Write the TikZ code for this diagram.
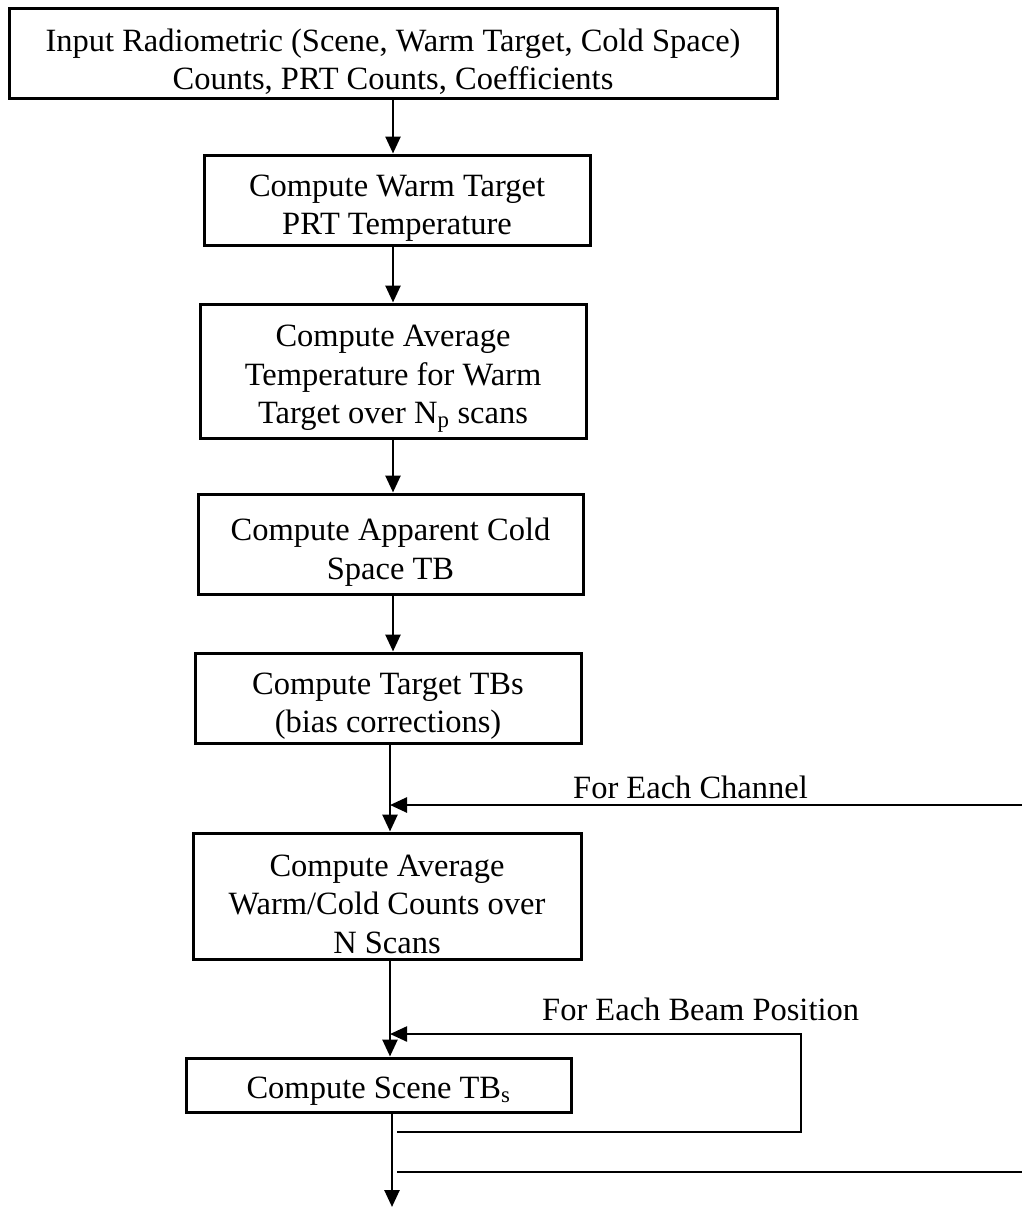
\documentclass[tikz,border=0pt]{standalone}
\usepackage{fontspec}
\setmainfont{Liberation Serif}
\usetikzlibrary{arrows.meta}
\begin{document}
\begin{tikzpicture}[x=1pt,y=-1pt,
  box/.style={draw, line width=3pt, inner sep=0pt},
  txt/.style={align=center, inner sep=0pt, yshift=-8pt,
    font=\fontsize{32.5}{38.5}\selectfont},
  arr/.style={line width=2.6pt, -{Triangle[length=17pt,width=15pt]}},
  loopline/.style={line width=2.3pt},
  lbl/.style={anchor=base west, inner sep=0pt, font=\fontsize{32.5}{38.5}\selectfont}]
\useasboundingbox (0,0) rectangle (1022,1207);

\node[box, minimum width=768pt, minimum height=89pt,
  label={[txt]center:{Input Radiometric (Scene, Warm Target, Cold Space)\\Counts, PRT Counts, Coefficients}}]
  (b1) at (393,53.5) {};
\node[box, minimum width=386pt, minimum height=90pt,
  label={[txt]center:{Compute Warm Target\\PRT Temperature}}]
  (b2) at (397,200) {};
\node[box, minimum width=386pt, minimum height=134pt,
  label={[txt]center:{Compute Average\\Temperature for Warm\\Target over N\textsubscript{p} scans}}]
  (b3) at (393,371) {};
\node[box, minimum width=385pt, minimum height=100pt,
  label={[txt]center:{Compute Apparent Cold\\Space TB}}]
  (b4) at (390.5,544) {};
\node[box, minimum width=386pt, minimum height=90pt,
  label={[txt]center:{Compute Target TBs\\(bias corrections)}}]
  (b5) at (388,698) {};
\node[box, minimum width=388pt, minimum height=126pt,
  label={[txt]center:{Compute Average\\Warm/Cold Counts over\\N Scans}}]
  (b6) at (387,896) {};
\node[box, minimum width=385pt, minimum height=54pt,
  label={[txt, yshift=2pt]center:{Compute Scene TB\textsubscript{s}}}]
  (b7) at (378.5,1085) {};

\coordinate (c1) at (393,0);
\coordinate (c2) at (390,0);

\draw[arr] (b1.south -| c1) -- (b2.north -| c1);
\draw[arr] (b2.south -| c1) -- (b3.north -| c1);
\draw[arr] (b3.south -| c1) -- (b4.north -| c1);
\draw[arr] (b4.south -| c1) -- (b5.north -| c1);
\draw[arr] (b5.south -| c2) -- (b6.north -| c2);
\draw[arr] (b6.south -| c2) -- (b7.north -| c2);

% channel loop
\coordinate (chR) at (1022,805);
\draw[arr] (chR) -- (chR -| c2);
\node[lbl] (lch) at (573,798) {For Each Channel};

% beam loop
\coordinate (bmL) at (397,1132);
\coordinate (bmB) at (801,1132);
\coordinate (bmR) at (801,1034);
\draw[arr, line width=2.3pt] (bmL) -- (bmB) -- (bmR) -- (bmR -| c2);
\node[lbl] (lbm) at (542,1020) {For Each Beam Position};

% channel loop return
\coordinate (chL) at (397,1172);
\coordinate (chE) at (1022,1172);
\draw[loopline] (chL) -- (chE);

% exit
\coordinate (endpt) at (392,1207);
\draw[arr] (b7.south -| endpt) -- (endpt);
\end{tikzpicture}
\end{document}
